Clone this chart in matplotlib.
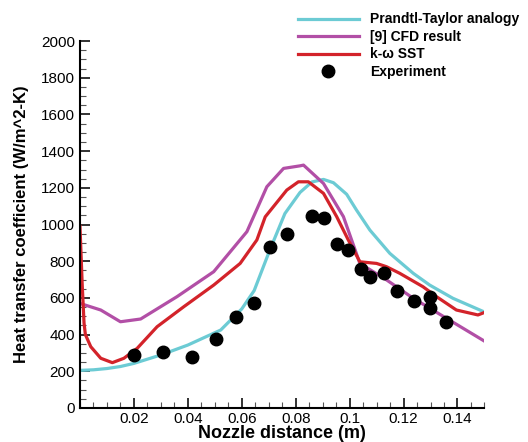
import matplotlib

matplotlib.use("Agg")
import matplotlib.pyplot as plt
from matplotlib.ticker import MultipleLocator

plt.rcParams["font.family"] = ["Liberation Sans", "DejaVu Sans"]

# Prandtl-Taylor analogy
pt_x = [0.0, 0.005, 0.01, 0.015, 0.02, 0.03, 0.04, 0.0522, 0.06, 0.0646, 0.0704,
        0.076, 0.0816, 0.086, 0.0903, 0.094, 0.0989, 0.1025, 0.1075, 0.1149, 0.1236,
        0.1297, 0.1383, 0.1497]
pt_y = [205, 208, 215, 226, 243, 289, 343, 425, 540, 640, 861,
        1060, 1175, 1232, 1246, 1228, 1165, 1080, 970, 843, 734,
        670, 598, 525]

# [9] CFD result
cfd_x = [0.0, 0.0077, 0.015, 0.0225, 0.036, 0.0496, 0.0619, 0.0693, 0.0755, 0.0816,
         0.0829, 0.0903, 0.0977, 0.1038, 0.1137, 0.1236, 0.1359, 0.1497]
cfd_y = [570, 534, 470, 485, 607, 743, 961, 1206, 1306, 1320,
         1324, 1224, 1043, 788, 698, 598, 489, 367]

# k-omega SST
sst_x = [0.0, 0.0008, 0.0015, 0.002, 0.004, 0.0077, 0.012, 0.0163, 0.0212, 0.0286,
         0.0385, 0.0496, 0.0594, 0.0656, 0.0687, 0.0767, 0.081, 0.0847, 0.0903, 0.0952,
         0.0995, 0.1038, 0.11, 0.1137, 0.1186, 0.1272, 0.1322, 0.1396, 0.1476, 0.1497]
sst_y = [990, 680, 463, 400, 334, 271, 247, 271, 325, 443,
         552, 670, 788, 916, 1042, 1188, 1233, 1233, 1170, 1043,
         916, 797, 788, 770, 734, 661, 607, 534, 507, 519]

# Experiment
exp_x = [0.020, 0.0307, 0.0416, 0.0505, 0.0578, 0.0646, 0.0704, 0.0769, 0.0862, 0.0906,
         0.0954, 0.0995, 0.1042, 0.1075, 0.1127, 0.1174, 0.1238, 0.1297, 0.1297, 0.1359]
exp_y = [289, 303, 280, 374, 494, 570, 879, 946, 1048, 1037,
         894, 861, 757, 712, 734, 638, 583, 607, 547, 470]

fig = plt.figure(figsize=(5.28, 4.42), dpi=100)
ax = fig.add_axes([0.1515, 0.077, 0.766, 0.830])

ax.plot(pt_x, pt_y, color="#6ccbd4", linewidth=2.3, label="Prandtl-Taylor analogy")
ax.plot(cfd_x, cfd_y, color="#b24fa6", linewidth=2.3, label="[9] CFD result")
ax.plot(sst_x, sst_y, color="#d3232a", linewidth=2.3, label="k-\u03c9 SST")
ax.plot(exp_x, exp_y, "o", color="black", markersize=9, linestyle="none", label="Experiment")

ax.set_xlim(0, 0.15)
ax.set_ylim(0, 2000)
ax.xaxis.set_minor_locator(MultipleLocator(0.005))
ax.yaxis.set_major_locator(MultipleLocator(200))
ax.yaxis.set_minor_locator(MultipleLocator(50))
ax.set_xticks([0.02, 0.04, 0.06, 0.08, 0.1, 0.12, 0.14])
ax.set_xticklabels(["0.02", "0.04", "0.06", "0.08", "0.1", "0.12", "0.14"])

for side in ("top", "right"):
    ax.spines[side].set_visible(False)
for side in ("left", "bottom"):
    ax.spines[side].set_linewidth(1.5)
ax.tick_params(which="major", direction="in", length=7, width=1.3, labelsize=11, color="#222222")
ax.tick_params(which="minor", direction="in", length=4, width=0.8, color="#555555")
ax.tick_params(axis="x", pad=3)

ax.set_xlabel("Nozzle distance (m)", fontsize=13, fontweight="bold", labelpad=-1)
ax.set_ylabel("Heat transfer coefficient (W/m^2-K)", fontsize=12, fontweight="bold", labelpad=9)

ax.legend(loc="upper left", bbox_to_anchor=(0.54, 1.0), bbox_transform=fig.transFigure,
          frameon=False, handlelength=4.4, handletextpad=0.8,
          labelspacing=0.25, prop={"weight": "bold", "size": 10})

fig.savefig("out.png", dpi=100)
